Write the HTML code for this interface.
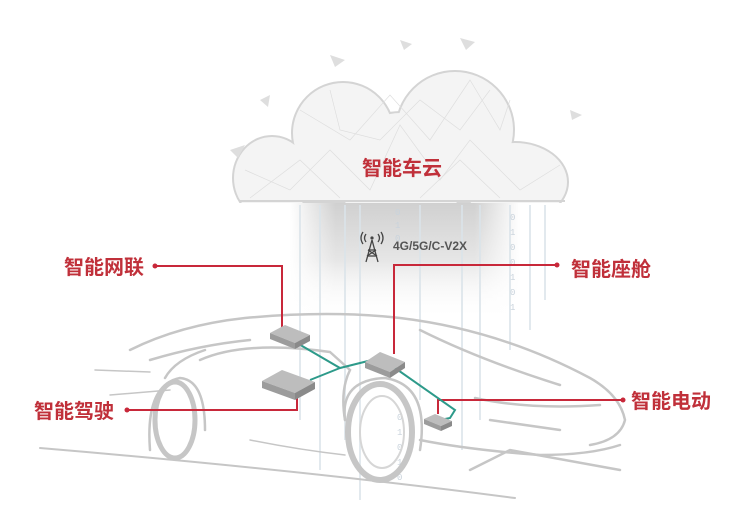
<!DOCTYPE html>
<html><head><meta charset="utf-8"><style>
html,body{margin:0;padding:0;background:#fff;width:744px;height:528px;overflow:hidden}
svg{display:block}
.lbl{font-family:"Liberation Sans","Noto Sans CJK SC",sans-serif;font-weight:bold;fill:#c0303a;font-size:20px}
.bin{font-family:"Liberation Mono",monospace;fill:#c9d3dc;font-size:9px}
</style></head><body>
<svg width="744" height="528" viewBox="0 0 744 528">
<defs>
<linearGradient id="col" x1="0" y1="0" x2="0" y2="1">
<stop offset="0" stop-color="#cfcfcf"/><stop offset="0.5" stop-color="#e6e6e6"/><stop offset="1" stop-color="#fff" stop-opacity="0"/>
</linearGradient>
<linearGradient id="colh" x1="0" y1="0" x2="1" y2="0">
<stop offset="0" stop-color="#fff"/><stop offset="0.2" stop-color="#fff" stop-opacity="0"/><stop offset="0.8" stop-color="#fff" stop-opacity="0"/><stop offset="1" stop-color="#fff"/>
</linearGradient>
<g id="cl">
<circle cx="343" cy="133" r="50"/>
<circle cx="455" cy="130" r="58"/>
<circle cx="401" cy="175" r="62"/>
<ellipse cx="272" cy="178" rx="38" ry="41"/>
<ellipse cx="515" cy="182" rx="52" ry="39"/>
<rect x="260" y="170" width="280" height="32"/>
</g>
<clipPath id="cc"><rect x="0" y="0" width="744" height="203"/></clipPath>
</defs>
<!-- cloud glow column -->
<rect x="290" y="200" width="230" height="120" fill="url(#col)"/>
<rect x="290" y="200" width="230" height="120" fill="url(#colh)"/>
<!-- binary rain lines -->
<g stroke="#dbe4ea" stroke-width="2" opacity="0.8">
<line x1="300" y1="205" x2="300" y2="420"/><line x1="320" y1="205" x2="320" y2="470"/>
<line x1="345" y1="205" x2="345" y2="440"/><line x1="360" y1="205" x2="360" y2="500"/>
<line x1="420" y1="205" x2="420" y2="400"/><line x1="462" y1="205" x2="462" y2="450"/>
<line x1="480" y1="205" x2="480" y2="420"/><line x1="510" y1="205" x2="510" y2="350"/>
<line x1="530" y1="205" x2="530" y2="330"/><line x1="545" y1="205" x2="545" y2="300"/>
</g>
<g class="bin">
<text x="395" y="215">0</text><text x="395" y="228">1</text><text x="395" y="241">0</text>
<text x="510" y="220">0</text><text x="510" y="235">1</text><text x="510" y="250">0</text><text x="510" y="265">0</text><text x="510" y="280">1</text><text x="510" y="295">0</text><text x="510" y="310">1</text>
<text x="397" y="420">0</text><text x="397" y="435">1</text><text x="397" y="450">0</text><text x="397" y="465">1</text><text x="397" y="480">0</text>
</g>
<!-- cloud -->
<g clip-path="url(#cc)">
<use href="#cl" fill="none" stroke="#d4d4d4" stroke-width="4"/>
<use href="#cl" fill="#f4f4f4"/>
<line x1="240" y1="201" x2="565" y2="201" stroke="#d4d4d4" stroke-width="2"/>
<g stroke="#dedede" stroke-width="0.7" fill="none">
<path d="M245 170 L290 190 L330 150 L370 190 L400 125 L440 180 L470 140 L520 190 L560 165 M300 110 L350 140 L390 95 L430 140 L470 80 L500 130 L510 100"/>
<path d="M250 198 L300 160 L340 198 M420 198 L460 160 L500 198 M330 90 L340 130 L380 140 L420 100 L460 130 L490 90"/>
</g>
</g>
<g fill="#dedede">
<polygon points="230,150 245,145 238,158"/><polygon points="330,55 345,60 335,67"/><polygon points="400,40 412,44 404,50"/>
<polygon points="460,38 475,42 466,50"/><polygon points="570,110 582,115 572,120"/><polygon points="260,100 270,95 268,107"/>
</g>
<text class="lbl" x="362" y="175" font-size="20">智能车云</text>
<!-- antenna -->
<g stroke="#444" stroke-width="1.3" fill="none">
<line x1="372" y1="240" x2="366" y2="262"/><line x1="372" y1="240" x2="378" y2="262"/>
<line x1="368" y1="250" x2="376" y2="250"/><line x1="367" y1="256" x2="377" y2="256"/>
<line x1="368" y1="250" x2="377" y2="256"/><line x1="376" y1="250" x2="367" y2="256"/>
<path d="M366 234 Q363 238 366 242 M378 234 Q381 238 378 242 M363 232 Q359 238 363 244 M381 232 Q385 238 381 244"/>
</g>
<circle cx="372" cy="238" r="1.6" fill="#444"/>
<text x="393" y="250" font-family="Liberation Sans,sans-serif" font-weight="bold" font-size="12" fill="#555">4G/5G/C-V2X</text>
<!-- car -->
<g fill="none" stroke="#c6c6c6" stroke-width="2.5" stroke-linecap="round">
<path d="M130 350 Q180 325 245 318 Q330 310 400 318 Q500 330 590 378 Q620 395 625 420 Q620 440 590 445"/>
<path d="M150 360 Q200 345 250 340"/>
<path d="M165 378 Q175 360 205 350"/>
<path d="M40 448 Q300 470 515 498" stroke-width="2"/>
<path d="M110 395 L170 390 M95 370 L150 372" stroke-width="1.5"/>
<path d="M150 450 Q145 385 180 378 Q205 380 205 430" />
<path d="M200 360 Q245 340 330 352 L350 370 Q340 390 345 420"/>
<path d="M345 420 Q340 380 385 378 Q430 385 420 450"/>
<path d="M420 440 Q470 450 540 455 Q590 455 620 445"/>
<path d="M475 398 Q530 410 600 405 M490 420 L560 430 M470 470 L510 450 L620 470"/>
<path d="M250 440 Q300 450 345 455" stroke-width="1.5"/>
<path d="M420 330 Q480 360 560 385"/>
</g>
<ellipse cx="175" cy="420" rx="20" ry="38" fill="none" stroke="#c6c6c6" stroke-width="5"/>
<ellipse cx="380" cy="432" rx="32" ry="48" fill="none" stroke="#c6c6c6" stroke-width="6"/>
<ellipse cx="382" cy="432" rx="22" ry="36" fill="none" stroke="#d6d6d6" stroke-width="2"/>
<!-- red connectors -->
<g stroke="#c8283a" stroke-width="2" fill="none">
<polyline points="155,266 282,266 282,328"/>
<polyline points="557,265 394,265 394,354"/>
<polyline points="127,410 297,410 297,393"/>
<polyline points="623,400 438,400 438,414"/>
</g>
<g fill="#c8283a">
<circle cx="155" cy="266" r="2.5"/><circle cx="557" cy="265" r="2.5"/>
<circle cx="127" cy="410" r="2.5"/><circle cx="623" cy="400" r="2.5"/>
</g>
<!-- teal links -->
<g stroke="#2d9a8a" stroke-width="2" fill="none">
<polyline points="297,343 340,368 380,358"/>
<line x1="310" y1="380" x2="340" y2="368"/>
<polyline points="395,368 455,410 450,418 440,420"/>
</g>
<!-- modules -->
<g>
<polygon points="270,333 285,325 310,335 295,343" fill="#bdbdbd"/><polygon points="270,333 295,343 295,349 270,339" fill="#9c9c9c"/><polygon points="295,343 310,335 310,341 295,349" fill="#8a8a8a"/>
<polygon points="262,381 282,370 315,382 295,393" fill="#bdbdbd"/><polygon points="262,381 295,393 295,400 262,388" fill="#9c9c9c"/><polygon points="295,393 315,382 315,389 295,400" fill="#8a8a8a"/>
<polygon points="365,362 380,352 405,362 390,372" fill="#bdbdbd"/><polygon points="365,362 390,372 390,378 365,368" fill="#9c9c9c"/><polygon points="390,372 405,362 405,368 390,378" fill="#8a8a8a"/>
<polygon points="424,419 435,414 452,421 441,426" fill="#bdbdbd"/><polygon points="424,419 441,426 441,431 424,424" fill="#9c9c9c"/><polygon points="441,426 452,421 452,426 441,431" fill="#8a8a8a"/>
</g>
<!-- labels -->
<text class="lbl" x="64" y="274">智能网联</text>
<text class="lbl" x="571" y="276">智能座舱</text>
<text class="lbl" x="34" y="418">智能驾驶</text>
<text class="lbl" x="631" y="408">智能电动</text>
</svg>
</body></html>
